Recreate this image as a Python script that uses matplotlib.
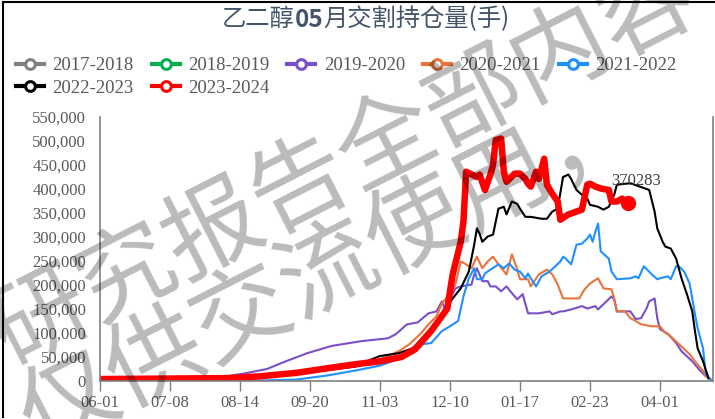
import matplotlib
matplotlib.use('Agg')
import matplotlib.pyplot as plt
from matplotlib.lines import Line2D
from matplotlib.ticker import FuncFormatter

# ---- data (交易日序号, 持仓量 手) ----
tick_pos = [0, 26, 52, 78, 104, 130, 156, 182, 208]
tick_labels = ['06-01', '07-08', '08-14', '09-20', '11-03', '12-10', '01-17', '02-23', '04-01']

x_1920 = [0, 40, 53, 62, 69, 77, 86, 97, 107, 110, 114, 118, 122, 125, 127, 128, 130, 132, 134, 138,
          139, 140, 142, 144, 145, 147, 149, 151, 153, 155, 157, 159, 163, 167, 168, 171, 172, 175, 179, 181,
          184, 185, 187, 190, 191, 192, 195, 197, 199, 201, 203, 204, 206, 207, 208, 211, 214, 216, 220, 223,
          225, 227]
y_1920 = [1, 4, 15, 25, 41, 58, 73, 83, 89, 98, 118, 122, 141, 145, 166, 151, 170, 193, 197, 201,
          222, 235, 208, 208, 197, 197, 187, 197, 183, 170, 181, 141, 141, 145, 139, 145, 145, 149, 156, 151,
          156, 149, 160, 176, 170, 145, 145, 145, 129, 131, 151, 166, 172, 131, 108, 98, 79, 62, 41, 21,
          10, 2]

x_2021 = [0, 48, 73, 95, 104, 111, 115, 119, 122, 125, 127, 130, 132, 134, 136, 138, 140, 142, 144, 146,
          148, 151, 153, 155, 156, 159, 160, 163, 166, 168, 170, 172, 178, 180, 182, 185, 187, 190, 191, 192,
          195, 197, 199, 201, 205, 208, 210, 211, 215, 219, 221, 224, 225, 227]
y_2021 = [1, 4, 14, 33, 45, 62, 77, 98, 118, 135, 162, 181, 201, 249, 243, 235, 259, 235, 249, 259,
          243, 222, 264, 232, 212, 212, 197, 222, 232, 222, 201, 172, 172, 191, 203, 214, 193, 191, 172, 145,
          145, 131, 125, 118, 114, 114, 100, 98, 77, 56, 41, 21, 10, 2]

x_2122 = [0, 60, 73, 85, 95, 104, 112, 116, 120, 123, 127, 130, 133, 135, 137, 139, 140, 142, 143, 145,
          148, 150, 152, 154, 156, 158, 159, 160, 162, 164, 167, 171, 172, 173, 175, 177, 179, 181, 182, 183,
          184, 185, 186, 189, 190, 192, 197, 199, 200, 202, 205, 207, 208, 211, 212, 214, 215, 217, 219, 220,
          221, 222, 224, 225, 227]
y_2122 = [0, 1, 3, 12, 22, 32, 48, 68, 77, 79, 104, 114, 125, 176, 214, 235, 212, 212, 224, 232,
          243, 235, 245, 232, 228, 214, 224, 214, 197, 218, 228, 249, 259, 255, 243, 284, 286, 297, 305, 290,
          311, 328, 270, 255, 228, 212, 214, 218, 214, 239, 222, 212, 214, 218, 212, 239, 239, 228, 203, 172,
          139, 110, 68, 15, 2]

x_2223 = [0, 48, 73, 95, 99, 104, 111, 116, 117, 123, 127, 131, 134, 137, 139, 140, 141, 142, 144, 146,
          147, 148, 150, 151, 153, 155, 156, 158, 160, 164, 166, 168, 170, 172, 174, 175, 177, 179, 181, 182,
          185, 187, 189, 191, 192, 197, 203, 204, 206, 207, 209, 210, 212, 214, 216, 218, 220, 221, 222, 224,
          226]
y_2223 = [2, 5, 15, 30, 41, 52, 58, 68, 73, 110, 139, 172, 193, 228, 284, 318, 307, 290, 301, 305,
          332, 359, 363, 347, 374, 369, 359, 342, 342, 338, 338, 353, 359, 425, 430, 421, 398, 388, 380, 367,
          363, 357, 363, 388, 409, 412, 400, 398, 353, 318, 290, 280, 276, 255, 214, 181, 145, 104, 68, 41,
          6]

x_2324 = [0, 48, 60, 73, 85, 95, 104, 112, 117, 123, 129, 131, 134, 135, 136, 140, 141, 143, 145, 146,
          147, 149, 150, 151, 154, 156, 158, 159, 160, 162, 163, 165, 166, 168, 170, 171, 174, 179, 181, 182,
          184, 186, 189, 190, 192, 194, 195, 196]
y_2324 = [4, 6, 10, 17, 27, 35, 41, 50, 66, 104, 151, 222, 290, 332, 436, 425, 430, 398, 430, 450,
          502, 505, 436, 415, 432, 432, 421, 411, 405, 436, 421, 463, 409, 390, 374, 336, 347, 357, 409, 411,
          405, 401, 398, 374, 374, 380, 374, 370.283]

# 单位: 千手 -> 手
y_1920 = [v * 1000 for v in y_1920]
y_2021 = [v * 1000 for v in y_2021]
y_2122 = [v * 1000 for v in y_2122]
y_2223 = [v * 1000 for v in y_2223]
y_2324 = [v * 1000 for v in y_2324]

# ---- 样式 ----
C_1718 = '#808080'
C_1819 = '#00B050'
C_1920 = '#7A4FC9'
C_2021 = '#E8743B'
C_2122 = '#1E90FF'
C_2223 = '#000000'
C_2324 = '#FF0000'
AXIS_GRAY = '#7F7F7F'
TXT_GRAY = '#595959'
SERIF = 'Liberation Serif'
CJK = ['Noto Sans CJK SC', 'DejaVu Sans']

fig = plt.figure(figsize=(7.15, 4.19), dpi=100)
ax = fig.add_axes([100 / 715, 1 - 381 / 419, 613 / 715, 264 / 419])

ax.plot(x_1920, y_1920, color=C_1920, lw=1.5)
ax.plot(x_2021, y_2021, color=C_2021, lw=1.5)
ax.plot(x_2122, y_2122, color=C_2122, lw=1.5)
ax.plot(x_2223, y_2223, color=C_2223, lw=1.5)
ax.plot(x_2324, y_2324, color=C_2324, lw=4.7, solid_joinstyle='round')
ax.plot(x_2324[-1:], y_2324[-1:], 'o', color=C_2324, ms=10)
ax.annotate(str(int(round(y_2324[-1]))), xy=(x_2324[-1], y_2324[-1]), xytext=(6, 16),
            textcoords='offset points', ha='center', va='center',
            fontsize=12, family=SERIF, color='#404040')

ax.set_xlim(0, 227.7)
ax.set_ylim(0, 550000)
ax.set_yticks(range(0, 550001, 50000))
ax.yaxis.set_major_formatter(FuncFormatter(lambda v, p: f'{int(v):,}'))
ax.set_xticks(tick_pos)
ax.set_xticklabels(tick_labels)
for lab in ax.get_xticklabels() + ax.get_yticklabels():
    lab.set_family(SERIF)
    lab.set_fontsize(12)
    lab.set_color(TXT_GRAY)
ax.tick_params(axis='y', length=0, pad=10)
ax.tick_params(axis='x', length=7, width=1, color=AXIS_GRAY, direction='out', pad=3)

for s in ['left', 'bottom', 'right']:
    ax.spines[s].set_color(AXIS_GRAY)
    ax.spines[s].set_linewidth(1.2)
ax.spines['top'].set_visible(False)

# ---- 标题 (05 加粗) ----
t1 = fig.text(222 / 715, 1 - 19 / 419, '乙二醇', family=CJK, fontsize=17.5,
              color='#44546A', va='center', ha='left')
t2 = ax.annotate('05', xy=(1, 0), xycoords=t1, va='bottom', ha='left', family=CJK,
                 fontsize=17.5, fontweight='bold', color='#44546A', annotation_clip=False)
t3 = ax.annotate('月交割持仓量(手)', xy=(1, 0), xycoords=t2, va='bottom', ha='left',
                 family=CJK, fontsize=17.5, color='#44546A', annotation_clip=False)

# ---- 图例 (按行排列) ----
names = ['2017-2018', '2018-2019', '2019-2020', '2020-2021', '2021-2022', '2022-2023', '2023-2024']
cols = [C_1718, C_1819, C_1920, C_2021, C_2122, C_2223, C_2324]
handles = [Line2D([], [], color=c, lw=3, marker='o', ms=7, mfc='white', mec=c, mew=2.2)
           for c in cols]
order = [0, 5, 1, 6, 2, 3, 4]
fig.legend([handles[i] for i in order], [names[i] for i in order], ncol=5, loc='upper left',
           bbox_to_anchor=(16 / 715, 1 - 57 / 419),
           frameon=False, prop={'family': SERIF, 'size': 13.5}, labelcolor=TXT_GRAY,
           handlelength=1.5, handletextpad=0.45, columnspacing=0.95, labelspacing=0.3,
           borderpad=0, borderaxespad=0)

# ---- 水印 ----
wm = dict(family=CJK, fontsize=70, color='black', alpha=0.27, rotation=27,
          ha='center', va='center', rotation_mode='anchor', zorder=10)
fig.text(345 / 715, 1 - 165 / 419, '研究报告全部内容', **wm)
fig.text(330 / 715, 1 - 272 / 419, '仅供交流使用，', **wm)

# ---- 外框 ----
fig.add_artist(Line2D([3 / 715, 3 / 715], [0.005, 1 - 2 / 419], color='black', lw=1.5))
fig.add_artist(Line2D([3 / 715, 1.0], [1 - 2 / 419, 1 - 2 / 419], color='black', lw=1.5))

fig.savefig('out.png', dpi=100, facecolor='white')
